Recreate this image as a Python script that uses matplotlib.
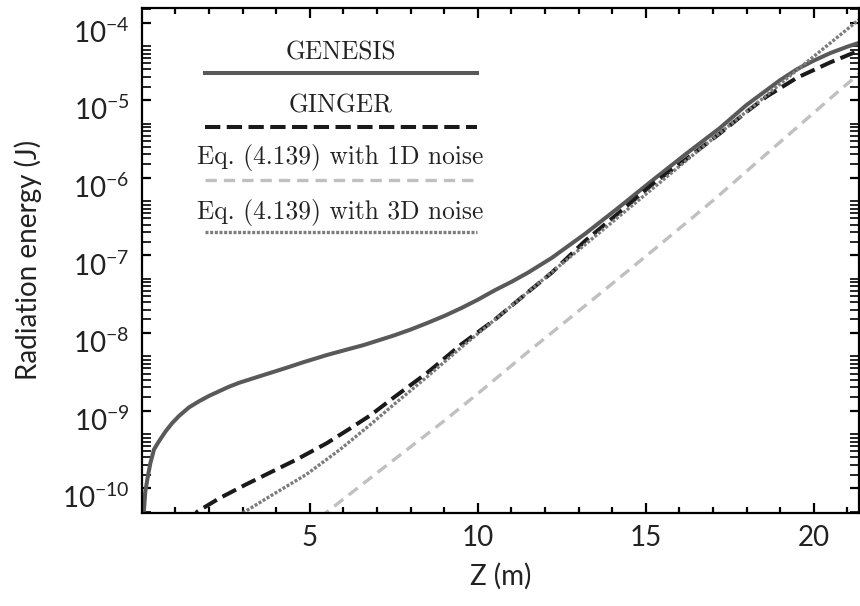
import numpy as np
import matplotlib
matplotlib.use("Agg")
import matplotlib.pyplot as plt
from matplotlib.ticker import FixedLocator, LogFormatterSciNotation, NullFormatter
from matplotlib.transforms import ScaledTranslation

plt.rcParams["font.family"] = ["Lato", "DejaVu Sans"]
plt.rcParams["mathtext.fontset"] = "custom"
plt.rcParams["mathtext.rm"] = "Lato"
plt.rcParams["mathtext.it"] = "Lato:italic"

# data (z in m, energy in J)
z_genesis = [0.02, 0.06, 0.10, 0.16, 0.25, 0.36, 0.50, 0.70, 0.90, 1.10, 1.40, 1.70, 2.0,
             2.3, 2.6, 2.9, 3.3, 3.7, 4.0, 4.4, 4.8, 5.1, 5.5, 5.9, 6.6, 7.5, 8.0, 8.5, 9.0,
             9.5, 10.0, 10.5, 11.0, 11.5, 12.2, 13.2, 14.2, 15.2, 16.2, 17.2, 18.0, 19.0,
             19.5, 20.0, 20.5, 21.0, 21.35]
e_genesis = [1.6e-11, 5.2e-11, 8.9e-11, 1.29e-10, 2.09e-10, 3.16e-10, 3.98e-10, 5.37e-10,
             6.9e-10, 8.5e-10, 1.1e-9, 1.32e-9, 1.55e-9, 1.78e-9, 2.04e-9, 2.29e-9, 2.6e-9,
             2.95e-9, 3.24e-9, 3.68e-9, 4.2e-9, 4.6e-9, 5.2e-9, 5.8e-9, 7.0e-9, 9.3e-9,
             1.11e-8, 1.35e-8, 1.66e-8, 2.09e-8, 2.69e-8, 3.55e-8, 4.57e-8, 6.03e-8, 9.3e-8,
             1.91e-7, 4.17e-7, 9.3e-7, 2.04e-6, 4.37e-6, 8.7e-6, 1.82e-5, 2.51e-5, 3.24e-5,
             4.07e-5, 4.9e-5, 5.5e-5]

z_ginger = [1.4, 1.65, 2.3, 3.1, 3.9, 4.6, 5.5, 6.2, 6.8, 7.5, 8.5, 9.5, 10.5, 11.5, 12.2,
            13.2, 14.2, 15.2, 16.2, 17.2, 18.0, 18.6, 19.5, 20.5, 21.35]
e_ginger = [3.55e-11, 5.0e-11, 7.4e-11, 1.12e-10, 1.66e-10, 2.34e-10, 3.8e-10, 5.9e-10,
            8.7e-10, 1.48e-9, 3.09e-9, 7.1e-9, 1.48e-8, 3.39e-8, 6.0e-8, 1.55e-7, 3.55e-7,
            8.3e-7, 1.74e-6, 3.72e-6, 7.1e-6, 1.12e-5, 1.95e-5, 3.09e-5, 4.37e-5]

z_1d = [5.3, 5.47, 7.0, 9.0, 10.0, 11.5, 13.5, 15.2, 17.0, 18.3, 19.5, 20.8, 21.35]
e_1d = [4.17e-11, 4.8e-11, 1.58e-10, 7.4e-10, 1.66e-9, 5.75e-9, 2.88e-8, 1.15e-7, 5.1e-7,
        1.58e-6, 4.47e-6, 1.38e-5, 2.19e-5]

z_3d = [2.8, 3.0, 3.9, 4.9, 5.9, 6.8, 7.5, 8.5, 9.5, 10.5, 11.5, 12.5, 13.5, 14.5, 15.5,
        16.5, 17.5, 18.5, 19.5, 20.5, 21.35]
e_3d = [3.98e-11, 4.8e-11, 8.3e-11, 1.51e-10, 3.16e-10, 6.6e-10, 1.2e-9, 2.75e-9, 6.5e-9,
        1.48e-8, 3.39e-8, 7.8e-8, 1.78e-7, 4.07e-7, 9.3e-7, 2.14e-6, 4.8e-6, 1.07e-5,
        2.45e-5, 5.5e-5, 1.1e-4]

labels = ["GENESIS", "GINGER", "Eq. (4.139) with 1D noise", "Eq. (4.139) with 3D noise"]

fig = plt.figure(figsize=(8.6, 6.06), dpi=100)
ax = fig.add_axes([0.165, 0.1535, 0.834, 0.8335])

styles = [
    dict(color="#595959", lw=2.9, linestyle="-"),
    dict(color="#1a1a1a", lw=2.9, dashes=(3.8, 1.6)),
    dict(color="#c0c0c0", lw=2.4, dashes=(3.4, 2.1)),
    dict(color="#7c7c7c", lw=2.4, dashes=(0.9, 0.5), dash_capstyle="butt"),
]

ax.semilogy(z_genesis, e_genesis, **styles[0])
ax.semilogy(z_ginger, e_ginger, **styles[1])
ax.semilogy(z_1d, e_1d, **styles[2])
ax.semilogy(z_3d, e_3d, **styles[3])

ax.set_xlim(0, 21.35)
ax.set_ylim(4.8e-11, 1.55e-4)

# hand-made legend: label centered above each line sample
text_y = [0.911, 0.806, 0.703, 0.594]
line_y = [0.871, 0.764, 0.659, 0.556]
for lab, st, ty, ly in zip(labels, styles, text_y, line_y):
    ax.text(0.277, ty, lab, transform=ax.transAxes, ha="center", va="center",
            fontfamily="cmr10", fontsize=18.3, color="#222222")
    ax.plot([0.0877, 0.4666], [ly, ly], transform=ax.transAxes, **st)

# ticks
ax.xaxis.set_major_locator(FixedLocator([5, 10, 15, 20]))
ax.xaxis.set_minor_locator(FixedLocator([k for k in range(1, 22) if k % 5]))
ax.yaxis.set_major_locator(FixedLocator([10.0 ** n for n in range(-10, -3)]))
minor_k = [1.5, 2, 2.5, 3, 3.5, 4, 4.5, 5]
ax.yaxis.set_minor_locator(FixedLocator([k * 10.0 ** n for n in range(-11, -3) for k in minor_k]))
ax.yaxis.set_major_formatter(LogFormatterSciNotation())
ax.yaxis.set_minor_formatter(NullFormatter())

ax.tick_params(which="both", direction="in", top=True, right=True, width=1.6,
               colors="black", labelcolor="#222222", labelsize=20)
ax.tick_params(axis="x", which="major", length=7.5, pad=9)
ax.tick_params(axis="x", which="minor", length=4)
ax.tick_params(axis="y", which="both", length=6.5, pad=9)
ax.tick_params(axis="y", which="minor", width=1.2)
for sp in ax.spines.values():
    sp.set_linewidth(1.6)

off = ScaledTranslation(0, -8 / 100, fig.dpi_scale_trans)
for t in ax.get_yticklabels():
    t.set_transform(t.get_transform() + off)

ax.set_xlabel("Z (m)", fontsize=20, color="#222222", labelpad=8)
ax.set_ylabel("Radiation energy (J)", fontsize=20, color="#222222", labelpad=14)

fig.savefig("out.png", dpi=100)
